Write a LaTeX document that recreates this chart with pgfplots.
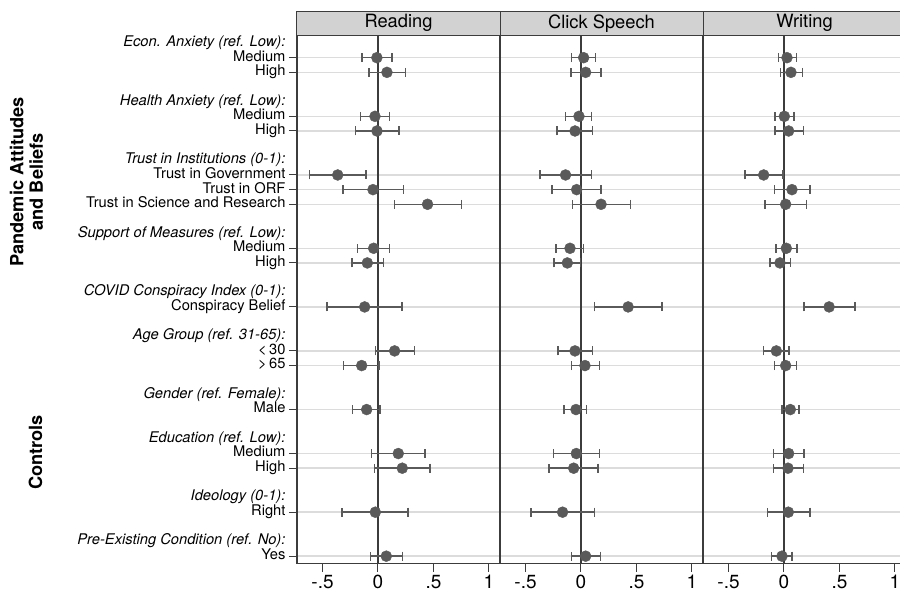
\documentclass[border=0pt]{standalone}
\usepackage{pgfplots}
\pgfplotsset{compat=1.18}
\usepackage{pgfplotstable}
\usepackage{fontspec}
\setmainfont{TeX Gyre Heros}

\definecolor{dotgray}{RGB}{90,90,90}
\definecolor{gridgray}{RGB}{220,220,220}
\definecolor{headgray}{RGB}{210,210,210}
\definecolor{framegray}{RGB}{60,60,60}

% columns: row, estimate, lower CI, upper CI
\pgfplotstableread{
y  b      lo     hi
1  -0.010 -0.144 0.126
2  0.081  -0.081 0.246
5  -0.027 -0.159 0.105
6  -0.009 -0.201 0.189
9  -0.363 -0.616 -0.108
10 -0.045 -0.315 0.228
11 0.447  0.147  0.754
14 -0.039 -0.186 0.105
15 -0.096 -0.234 0.048
18 -0.120 -0.459 0.216
21 0.150  -0.021 0.327
22 -0.147 -0.309 0.009
25 -0.102 -0.231 0.018
28 0.183  -0.060 0.426
29 0.219  -0.030 0.471
32 -0.024 -0.324 0.270
35 0.075  -0.066 0.219
}\reading

\pgfplotstableread{
y  b      lo     hi
1  0.024  -0.084 0.133
2  0.042  -0.090 0.181
5  -0.018 -0.139 0.093
6  -0.054 -0.217 0.105
9  -0.139 -0.370 0.096
10 -0.039 -0.262 0.181
11 0.181  -0.078 0.446
14 -0.099 -0.223 0.021
15 -0.123 -0.241 -0.006
18 0.425  0.123  0.729
21 -0.054 -0.208 0.102
22 0.036  -0.087 0.166
25 -0.045 -0.154 0.051
28 -0.042 -0.250 0.169
29 -0.066 -0.289 0.154
32 -0.166 -0.452 0.123
35 0.042  -0.084 0.175
}\clickspeech

\pgfplotstableread{
y  b      lo     hi
1  0.027  -0.051 0.111
2  0.063  -0.033 0.168
5  0.003  -0.081 0.090
6  0.042  -0.081 0.174
9  -0.183 -0.350 -0.009
10 0.072  -0.087 0.234
11 0.015  -0.171 0.204
14 0.021  -0.072 0.117
15 -0.036 -0.126 0.060
18 0.407  0.180  0.638
21 -0.069 -0.183 0.045
22 0.015  -0.087 0.114
25 0.057  -0.018 0.135
28 0.042  -0.093 0.180
29 0.036  -0.096 0.177
32 0.039  -0.150 0.234
35 -0.018 -0.114 0.072
}\writing

\pgfplotsset{
  panel/.style={
    scale only axis, width=203pt, height=527.8pt,
    anchor=south west,
    xmin=-0.73, xmax=1.1, ymin=-0.5, ymax=35.5, y dir=reverse,
    xtick={-0.5,0,0.5,1}, xticklabels={-.5,0,.5,1},
    xticklabel style={font=\fontsize{19}{19}\selectfont},
    ytick={1,2,5,6,9,10,11,14,15,18,21,22,25,28,29,32,35},
    tick align=outside, major tick length=8pt,
    tick style={line width=1pt, framegray},
    xtick pos=bottom, ytick pos=left,
    ymajorgrids, major grid style={line width=1.5pt, gridgray},
    axis line style={line width=1.5pt, framegray},
    clip=false,
  },
  coefs/.style={only marks, mark=*, mark size=5.5pt, color=dotgray,
    error bars/.cd, x dir=both, x explicit, error mark=|,
    error bar style={line width=1.5pt, dotgray},
    error mark options={line width=1.5pt, mark size=4.5pt, dotgray}},
}
\tikzset{head/.style={anchor=south, fill=headgray, draw=framegray,
  line width=1pt, minimum width=203pt, minimum height=24pt, inner sep=0pt,
  font=\fontsize{18.3}{20}\selectfont}}

\begin{document}
\begin{tikzpicture}
\useasboundingbox (0,0) rectangle (900pt,591pt);

\begin{axis}[panel, at={(297pt,27.5pt)},
  yticklabels={Medium,High,Medium,High,Trust in Government,Trust in ORF,
    Trust in Science and Research,Medium,High,Conspiracy Belief,{<\,30},{>\,65},
    Male,Medium,High,Right,Yes},
  typeset ticklabels with strut,
  yticklabel style={font=\fontsize{14.7}{17}\selectfont},
  extra y ticks={0,4,8,13,17,20,24,27,31,34},
  extra y tick labels={Econ. Anxiety (ref. Low):,Health Anxiety (ref. Low):,
    Trust in Institutions (0-1):,Support of Measures (ref. Low):,
    COVID Conspiracy Index (0-1):,Age Group (ref. 31-65):,
    Gender (ref. Female):,Education (ref. Low):,Ideology (0-1):,
    Pre-Existing Condition (ref. No):},
  extra y tick style={grid=none, major tick length=0pt,
    yticklabel style={font=\fontsize{14.7}{17}\selectfont\itshape, xshift=-8pt}},
]
\draw[line width=1.5pt, framegray] (axis cs:0,-0.5) -- (axis cs:0,35.5);
\addplot[coefs] table[x=b, y=y,
  x error plus expr=\thisrow{hi}-\thisrow{b},
  x error minus expr=\thisrow{b}-\thisrow{lo}] {\reading};
\node[head] at (rel axis cs:0.5,1) {Reading};
\end{axis}

\begin{axis}[panel, at={(500pt,27.5pt)},
  yticklabels={}, ytick style={draw=none}]
\draw[line width=1.5pt, framegray] (axis cs:0,-0.5) -- (axis cs:0,35.5);
\addplot[coefs] table[x=b, y=y,
  x error plus expr=\thisrow{hi}-\thisrow{b},
  x error minus expr=\thisrow{b}-\thisrow{lo}] {\clickspeech};
\node[head] at (rel axis cs:0.5,1) {Click Speech};
\end{axis}

\begin{axis}[panel, at={(703pt,27.5pt)},
  yticklabels={}, ytick style={draw=none}]
\draw[line width=1.5pt, framegray] (axis cs:0,-0.5) -- (axis cs:0,35.5);
\addplot[coefs] table[x=b, y=y,
  x error plus expr=\thisrow{hi}-\thisrow{b},
  x error minus expr=\thisrow{b}-\thisrow{lo}] {\writing};
\node[head] at (rel axis cs:0.5,1) {Writing};
\end{axis}

\node[rotate=90, align=center, font=\fontsize{18.2}{19.5}\selectfont\bfseries]
  at (26.5pt,409pt) {Pandemic Attitudes\\and Beliefs};
\node[rotate=90, font=\fontsize{18.2}{19.5}\selectfont\bfseries]
  at (35.5pt,138.5pt) {Controls};
\end{tikzpicture}
\end{document}
